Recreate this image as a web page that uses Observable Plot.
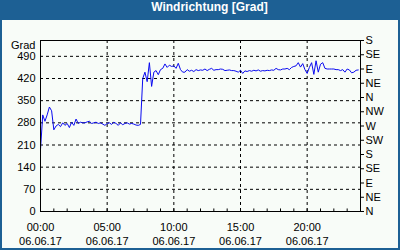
<!DOCTYPE html>
<html>
<head>
<meta charset="utf-8">
<script src="https://cdn.jsdelivr.net/npm/d3@7"></script>
<script src="https://cdn.jsdelivr.net/npm/@observablehq/plot@0.6"></script>
<style>
  html, body { margin: 0; padding: 0; background: #1d6094; }
  #wrap { width: 400px; height: 250px; background: #1d6094; position: relative; overflow: hidden; }
  #title { height: 20px; line-height: 20px; color: #fff; font: bold 12px "Liberation Sans", Arial, sans-serif; text-align: center; padding-left: 19px; }
  #chart { position: absolute; left: 2px; top: 20px; width: 396px; height: 228px; background: #f8fcf8; }
  #chart svg { display: block; }
</style>
</head>
<body>
<div id="wrap">
  <div id="title">Windrichtung [Grad]</div>
  <div id="chart"></div>
</div>
<script>
const titleText = "Windrichtung [Grad]";
const yUnit = "Grad";
const dateLabel = "06.06.17";
const xTickHours = [0, 5, 10, 15, 20];
const xTickLabels = ["00:00", "05:00", "10:00", "15:00", "20:00"];
const minorTickHours = d3.range(0, 25);
const leftTicks = [0, 70, 140, 210, 280, 350, 420, 490];
const rightTicks = [0, 45, 90, 135, 180, 225, 270, 315, 360, 405, 450, 495, 540];
const rightLabels = ["N", "NE", "E", "SE", "S", "SW", "W", "NW", "N", "NE", "E", "SE", "S"];
const sampleMinutes = 10;
// Wind direction, every 10 minutes from 00:00 to 23:50
const direction = [
  195, 305, 285, 305, 330, 318,
  258, 270, 275, 268, 280, 272,
  278, 265, 282, 272, 292, 278,
  282, 280, 280, 283, 285, 278,
  280, 282, 278, 280, 276, 272,
  278, 280, 275, 282, 278, 272,
  280, 274, 278, 280, 276, 278,
  276, 273, 272, 275, 420, 440,
  410, 470, 395, 440, 445, 432,
  448, 452, 466, 455, 462, 458,
  460, 452, 468, 448, 440, 440,
  448, 443, 446, 442, 448, 445,
  447, 446, 450, 445, 449, 452,
  446, 448, 448, 450, 449, 445,
  446, 447, 445, 445, 443, 440,
  446, 436, 444, 442, 445, 443,
  446, 444, 447, 443, 445, 444,
  446, 445, 447, 446, 452, 448,
  447, 450, 450, 452, 448, 455,
  458, 460, 470, 456, 467, 448,
  436, 455, 470, 433, 476, 440,
  465, 470, 452, 450, 450, 450,
  450, 448, 448, 445, 448, 440,
  450, 447, 438, 440, 446, 447
];

const data = direction.map((v, i) => ({h: i * sampleMinutes / 60, v}));

const plot = Plot.plot({
  width: 396,
  height: 228,
  marginLeft: 38,
  marginRight: 38,
  marginTop: 20,
  marginBottom: 37,
  style: {background: "transparent", fontFamily: "'Liberation Sans', Arial, sans-serif", fontSize: "11px", color: "black", overflow: "visible"},
  x: {domain: [0, 24]},
  y: {domain: [0, 540]},
  marks: [
    Plot.gridY(leftTicks.filter(d => d > 0), {stroke: "black", strokeOpacity: 1, strokeDasharray: "3,3"}),
    Plot.gridX(xTickHours.filter(d => d > 0), {stroke: "black", strokeOpacity: 1, strokeDasharray: "3,3"}),
    Plot.axisY(leftTicks, {anchor: "left", tickSize: 0, tickPadding: 5, label: null, fill: "black"}),
    Plot.axisY(rightTicks, {anchor: "right", tickSize: 3, tickPadding: 2, label: null, fill: "black", stroke: "black",
      tickFormat: d => rightLabels[rightTicks.indexOf(d)]}),
    Plot.axisX(xTickHours, {anchor: "bottom", tickSize: 0, tickPadding: 9, label: null, fill: "black", lineHeight: 1.3,
      tickFormat: d => xTickLabels[xTickHours.indexOf(d)] + "\n" + dateLabel}),
    Plot.ruleX(minorTickHours, {y1: 0, y2: 8, stroke: "black"}),
    Plot.line(data, {x: "h", y: "v", stroke: "#0a0af0", strokeWidth: 1}),
    Plot.frame({stroke: "black"}),
    Plot.text([yUnit], {frameAnchor: "top-left", dx: -5, dy: 5, textAnchor: "end", lineAnchor: "middle", fill: "black"})
  ]
});
document.getElementById("chart").appendChild(plot);
</script>
</body>
</html>
